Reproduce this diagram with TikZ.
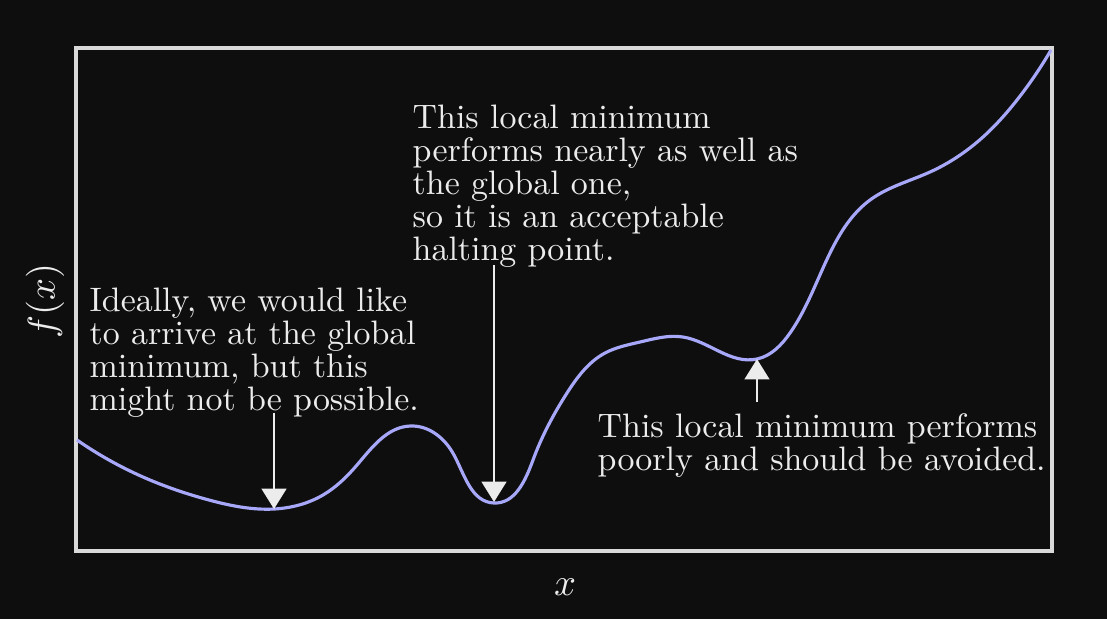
\documentclass[tikz,border=0pt]{standalone}
\usepackage{amsmath}
\usepackage{amssymb}
\usetikzlibrary{arrows.meta,hobby}
\definecolor{bgdark}{RGB}{14,14,14}
\definecolor{curveblue}{RGB}{168,168,250}
\definecolor{inkwhite}{RGB}{236,236,236}

\begin{document}
\begin{tikzpicture}[x=0.1mm,y=-0.1mm,inner sep=0pt,
  note/.style={align=left,anchor=north west,text=inkwhite,font=\fontsize{9.65}{9.4}\selectfont},
  pointer/.style={draw=inkwhite,line width=0.8pt,-{Triangle[width=7pt,length=5.8pt]}}]
\fill[bgdark] (0,0) rectangle (1107,619);
\useasboundingbox (0,0) rectangle (1107,619);

% frame of the plot
\draw[inkwhite!92!black,line width=0.9pt] (76,48) rectangle (1052,551);

% the function
\draw[curveblue,line width=0.9pt,use Hobby shortcut]
  (77,440) .. (143,477) .. (209,500) .. (274,509) .. (323,495) .. (357,465)
  .. (410,426) .. (454,455) .. (494,503) .. (533,460) .. (567,393)
  .. (605,353) .. (640,342) .. (683,337) .. (757,359) .. (790,333)
  .. (830,253) .. (870,200) .. (930,172) .. (983,137) .. (1017,100)
  .. (1051,50);

% local minima
\coordinate (g1) at (274,509);
\coordinate (g2) at (494,502);
\coordinate (g3) at (757,359);

\node[note] (ideal) at (89,287) {Ideally, we would like\\to arrive at the global\\minimum, but this\\might not be possible.};
\node[note] (accept) at (412,104) {This local minimum\\performs nearly as well as\\the global one,\\so it is an acceptable\\halting point.};
\node[note] (avoid) at (597,413) {This local minimum performs\\poorly and should be avoided.};

\coordinate (t1) at (274,413);
\coordinate (t2) at (494,265);
\coordinate (t3) at (757,402);

\draw[pointer] (t1) -- (g1);
\draw[pointer] (t2) -- (g2);
\draw[pointer] (t3) -- (g3);

% axis labels
\node[text=inkwhite,font=\fontsize{11}{13}\selectfont] (xlab) at (565,587) {$x$};
\node[text=inkwhite,font=\fontsize{11}{13}\selectfont,rotate=90] (ylab) at (45,301) {$f(x)$};
\end{tikzpicture}
\end{document}
